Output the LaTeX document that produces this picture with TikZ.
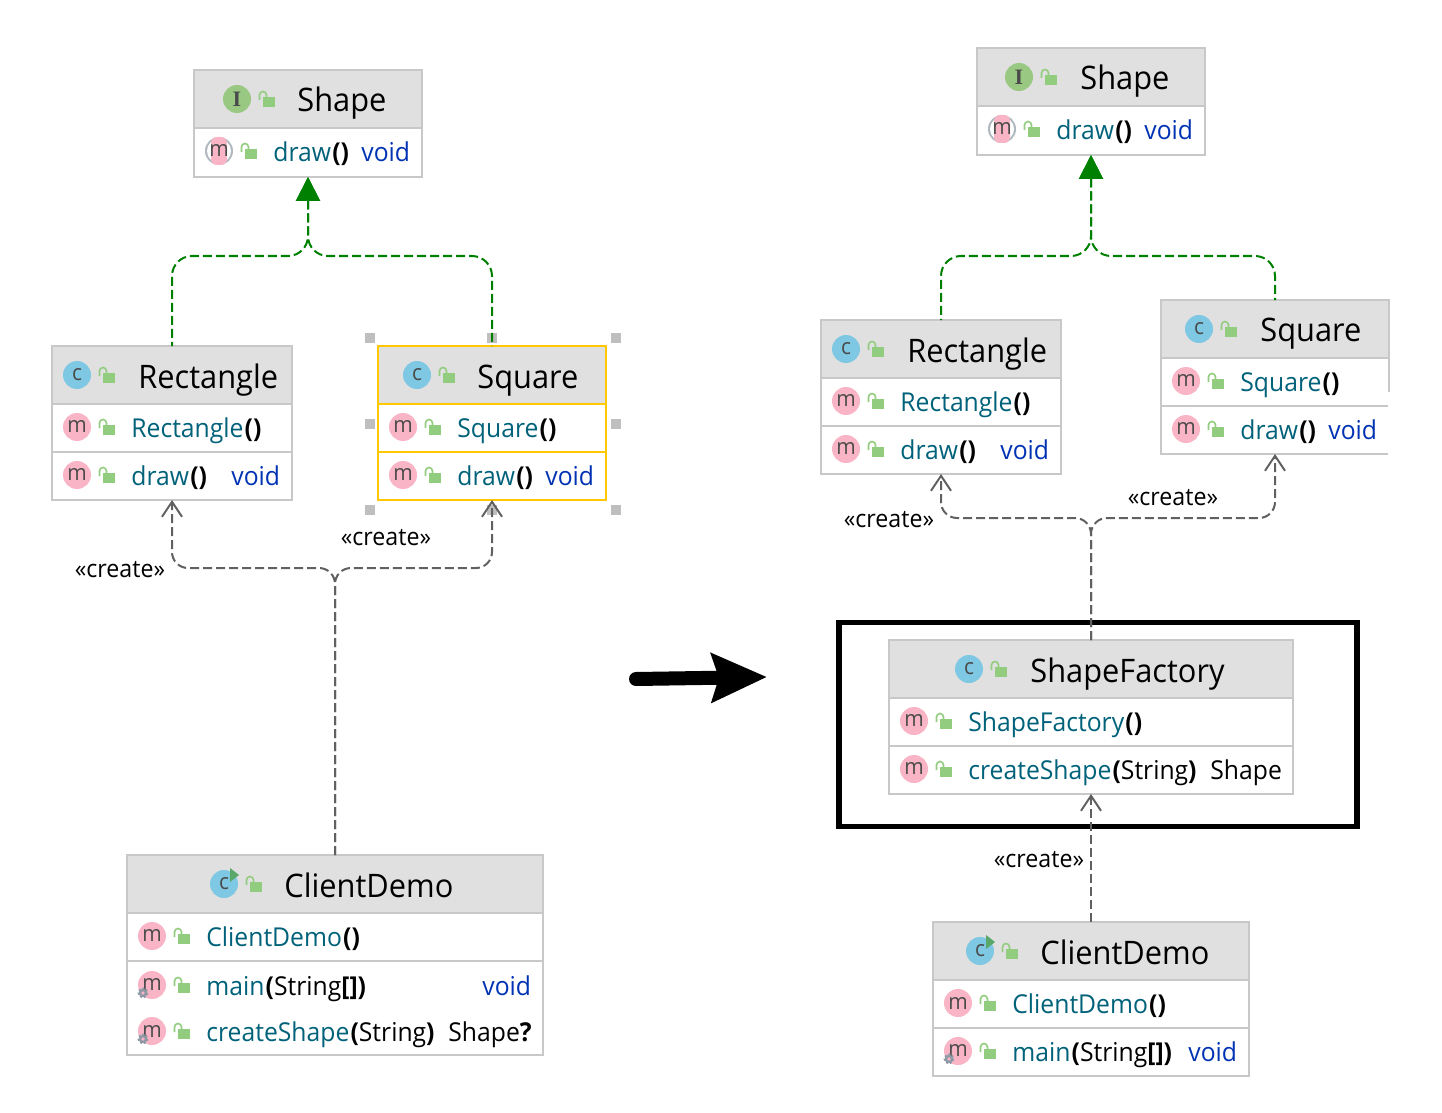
\documentclass[tikz,border=0pt]{standalone}
\usepackage{fontspec}
\setmainfont[FakeStretch=.95]{Open Sans}
\newfontfamily\iconserif{Liberation Serif}
\usepackage{xcolor}
\usetikzlibrary{arrows.meta,positioning,calc}
\definecolor{headgray}{HTML}{E0E0E0}
\definecolor{framegray}{HTML}{C8C8C8}
\definecolor{selyellow}{HTML}{FFC800}
\definecolor{methteal}{HTML}{00627A}
\definecolor{voidblue}{HTML}{0033B3}
\definecolor{iconpink}{HTML}{F9B5C5}
\definecolor{iconblue}{HTML}{7EC8E3}
\definecolor{icongreen}{HTML}{98C882}
\definecolor{lockgreen}{HTML}{92CC7E}
\definecolor{rungreen}{HTML}{59A869}
\definecolor{geargray}{HTML}{8E99A5}
\definecolor{abstractgray}{HTML}{B0B8C0}
\definecolor{darkglyph}{HTML}{4A4A4A}
\definecolor{implgreen}{HTML}{008000}
\definecolor{creategray}{HTML}{606060}
\newcommand{\fn}[1]{\textcolor{methteal}{#1}\kern.6pt}
\newcommand{\bp}[1]{\textbf{#1}}
\tikzset{
  frame/.style={draw=framegray, line width=.7pt, fill=white, inner sep=0pt, outer sep=0pt},
  headbar/.style={fill=headgray, inner sep=0pt, outer sep=0pt, anchor=north},
  sep/.style={draw=framegray, line width=1pt},
  title/.style={anchor=base west, inner sep=0pt, font=\fontsize{16.2}{18}\selectfont},
  mtext/.style={anchor=base west, inner sep=0pt, yshift=.25pt, font=\fontsize{13}{16}\selectfont},
  vtype/.style={mtext, text=voidblue},
  ctext/.style={anchor=center, inner sep=0pt, font=\fontsize{12.2}{14}\selectfont},
  glyph/.style={circle, minimum size=14pt, inner sep=0pt, text=darkglyph, font=\fontsize{11}{10}\selectfont},
  micon/.style={glyph, fill=iconpink},
  aicon/.style={glyph},
  cicon/.style={glyph, fill=iconblue},
  iicon/.style={glyph, fill=icongreen},
  handle/.style={fill=gray!50, minimum size=5pt, inner sep=0pt},
  real/.style={draw=implgreen, line width=1pt, dash pattern=on 4.5pt off 2pt, rounded corners=10pt,
    {Triangle[length=12pt,width=12pt,fill=implgreen]}-},
  create/.style={draw=creategray, line width=1pt, dash pattern=on 4.5pt off 2pt, rounded corners=8pt,
    -{Straight Barb[length=7.5pt,width=10pt]}},
  lockicon/.pic={
    \fill[lockgreen] (0,0) rectangle (12,10);
    \draw[lockgreen, line width=.8pt] (-3.5,3) -- (-3.5,-2) arc[start angle=180, end angle=360, radius=3.5] -- (3.5,0);
  },
  gearicon/.pic={
    \draw[geargray, line width=1.2pt] (0,0) circle[radius=3];
    \draw[geargray, line width=.9pt, dash pattern=on 1pt off 1pt] (0,0) circle[radius=4.5];
  }
}
% frame of one class: name, centre x, width, height, top y
\newcommand{\umlframe}[6][frame]{
  \node[#1, minimum width=#4*.5pt, minimum height=#5*.5pt, anchor=north] (#2) at (#3,#6) {};
  \node[headbar, minimum width=#4*.5pt-1pt, minimum height=57*.5pt] (#2head) at ($(#2.north)+(0,1)$) {};
}
% class header: name, icon style, letter, icon x, icon y, title x, title
\newcommand{\classrow}[7]{
  \node[#2] (#1icon) at (#4,#5) {#3};
  \pic at (#4+26,#5-2) {lockicon};
  \node[title] (#1title) at (#6,#5+13) {#7};
}
% member row: name, icon x, icon y, text
\newcommand{\methrow}[4]{
  \node[micon] (#1icon) at (#2,#3) {m};
  \pic at (#2+26,#3-2) {lockicon};
  \node[mtext] (#1text) at (#2+54,#3+11) {#4};
}
% abstract member row: name, icon x, icon y, text
\newcommand{\absrow}[4]{
  \fill[abstractgray] (#2,#3) circle[radius=14];
  \fill[white] (#2,#3) circle[radius=12];
  \fill[iconpink, rounded corners=3pt] (#2-8,#3-14) rectangle (#2+8,#3+14);
  \node[aicon] (#1icon) at (#2,#3) {m};
  \pic at (#2+26,#3-2) {lockicon};
  \node[mtext] (#1text) at (#2+54,#3+11) {#4};
}
\begin{document}
\begin{tikzpicture}[x=.5pt, y=-.5pt]
  \useasboundingbox (0,0) rectangle (1442,1113);
  % left: selection handles
  \node[handle] (hA) at (370,338) {};
  \node[handle] (hB) at (492,338) {};
  \node[handle] (hC) at (616,338) {};
  \node[handle] (hD) at (370,424) {};
  \node[handle] (hE) at (616,424) {};
  \node[handle] (hF) at (370,510) {};
  \node[handle] (hG) at (492,510) {};
  \node[handle] (hH) at (616,510) {};
  % left classes
  \umlframe{shapeL}{308}{228}{107}{70}
  \draw[sep] (194,128) -- (422,128);
  \classrow{shapeLh}{iicon}{{\iconserif\bfseries I}}{237}{99}{297}{Shape}
  \absrow{shapeLa}{219}{151}{\fn{draw}\bp{()}}
  \node[vtype] (shapeLv) at (361,162) {void};

  \umlframe{rectL}{172}{240}{154}{346}
  \draw[sep] (52,404) -- (292,404) (52,452) -- (292,452);
  \classrow{rectLh}{cicon}{c}{77}{375}{138}{Rectangle}
  \methrow{rectLa}{77}{427}{\fn{Rectangle}\bp{()}}
  \methrow{rectLb}{77}{475}{\fn{draw}\bp{()}}
  \node[vtype] (rectLv) at (231,486) {void};

  \umlframe[frame, draw=selyellow]{squareL}{492}{228}{154}{346}
  \draw[sep, draw=selyellow] (378,404) -- (606,404) (378,452) -- (606,452);
  \classrow{squareLh}{cicon}{c}{417}{375}{477}{Square}
  \methrow{squareLa}{403}{427}{\fn{Square}\bp{()}}
  \methrow{squareLb}{403}{475}{\fn{draw}\bp{()}}
  \node[vtype] (squareLv) at (545,486) {void};

  \umlframe{clientL}{335}{416}{200}{855}
  \draw[sep] (127,913) -- (543,913) (127,961) -- (543,961);
  \classrow{clientLh}{cicon}{c}{224}{884}{284}{ClientDemo}
  \fill[rungreen] (230,868) -- (239,875) -- (230,882) -- cycle;
  \methrow{clientLa}{152}{936}{\fn{ClientDemo}\bp{()}}
  \methrow{clientLb}{152}{985}{\fn{main}\bp{(}String\bp{[])}}
  \pic at (143,993) {gearicon};
  \node[vtype] (clientLv) at (482,996) {void};
  \methrow{clientLc}{152}{1031}{\fn{createShape}\bp{(}String\bp{)}}
  \pic at (143,1039) {gearicon};
  \node[mtext] (clientLs) at (448,1042) {Shape\bp{?}};

  % right classes
  \umlframe{shapeR}{1091}{228}{107}{48}
  \draw[sep] (977,106) -- (1205,106);
  \classrow{shapeRh}{iicon}{{\iconserif\bfseries I}}{1019}{77}{1080}{Shape}
  \absrow{shapeRa}{1002}{129}{\fn{draw}\bp{()}}
  \node[vtype] (shapeRv) at (1144,140) {void};

  \umlframe{rectR}{941}{240}{154}{320}
  \draw[sep] (821,378) -- (1061,378) (821,426) -- (1061,426);
  \classrow{rectRh}{cicon}{c}{846}{349}{907}{Rectangle}
  \methrow{rectRa}{846}{401}{\fn{Rectangle}\bp{()}}
  \methrow{rectRb}{846}{449}{\fn{draw}\bp{()}}
  \node[vtype] (rectRv) at (1000,460) {void};

  \umlframe{squareR}{1275}{228}{154}{300}
  \draw[sep] (1161,358) -- (1389,358) (1161,406) -- (1389,406);
  \fill[white] (1388,392) rectangle (1391,456);
  \classrow{squareRh}{cicon}{c}{1199}{329}{1260}{Square}
  \methrow{squareRa}{1186}{381}{\fn{Square}\bp{()}}
  \methrow{squareRb}{1186}{429}{\fn{draw}\bp{()}}
  \node[vtype] (squareRv) at (1328,440) {void};

  \umlframe{factory}{1091}{404}{154}{640}
  \draw[sep] (889,698) -- (1293,698) (889,746) -- (1293,746);
  \classrow{factoryh}{cicon}{c}{969}{669}{1030}{ShapeFactory}
  \methrow{factorya}{914}{721}{\fn{ShapeFactory}\bp{()}}
  \methrow{factoryb}{914}{769}{\fn{createShape}\bp{(}String\bp{)}}
  \node[mtext] (factorys) at (1210,780) {Shape};

  \umlframe{clientR}{1091}{316}{154}{922}
  \draw[sep] (933,980) -- (1249,980) (933,1028) -- (1249,1028);
  \classrow{clientRh}{cicon}{c}{980}{951}{1040}{ClientDemo}
  \fill[rungreen] (986,935) -- (995,942) -- (986,949) -- cycle;
  \methrow{clientRa}{958}{1003}{\fn{ClientDemo}\bp{()}}
  \methrow{clientRb}{958}{1051}{\fn{main}\bp{(}String\bp{[])}}
  \pic at (949,1059) {gearicon};
  \node[vtype] (clientRv) at (1188,1062) {void};

  \node[draw, line width=2.75pt, minimum width=518*.5pt, minimum height=204*.5pt, inner sep=0pt] (focus) at (1098,724.5) {};

  % connectors
  \coordinate (jgL) at (308,256);
  \coordinate (jgR) at (1091,256);
  \coordinate (jcL) at (335,568);
  \coordinate (jcR) at (1091,518);
  \draw[real] (shapeL.south) -- (jgL) -| (rectL.north);
  \draw[real] (shapeL.south) -- (jgL) -| (squareL.north);
  \draw[create] (clientL.north) -- (jcL) -| (rectL.south);
  \draw[create] (clientL.north) -- (jcL) -| (squareL.south);
  \draw[real] (shapeR.south) -- (jgR) -| (rectR.north);
  \draw[real] (shapeR.south) -- (jgR) -| (squareR.north);
  \draw[create] (factory.north) -- (jcR) -| (rectR.south);
  \draw[create] (factory.north) -- (jcR) -| (squareR.south);
  \draw[create] (clientR.north) -- (factory.south);

  \node[ctext] (lblA) at (120,570) {«create»};
  \node[ctext] (lblB) at (386,538) {«create»};
  \node[ctext] (lblC) at (889,520) {«create»};
  \node[ctext] (lblD) at (1173,498) {«create»};
  \node[ctext] (lblE) at (1039,860) {«create»};

  % big arrow
  \coordinate (bigA) at (636,679);
  \coordinate (bigB) at (767,677);
  \draw[line width=7pt, line cap=round, -{Stealth[length=27.5pt,width=24pt,inset=3.5pt]}] (bigA) -- (bigB);
\end{tikzpicture}
\end{document}
